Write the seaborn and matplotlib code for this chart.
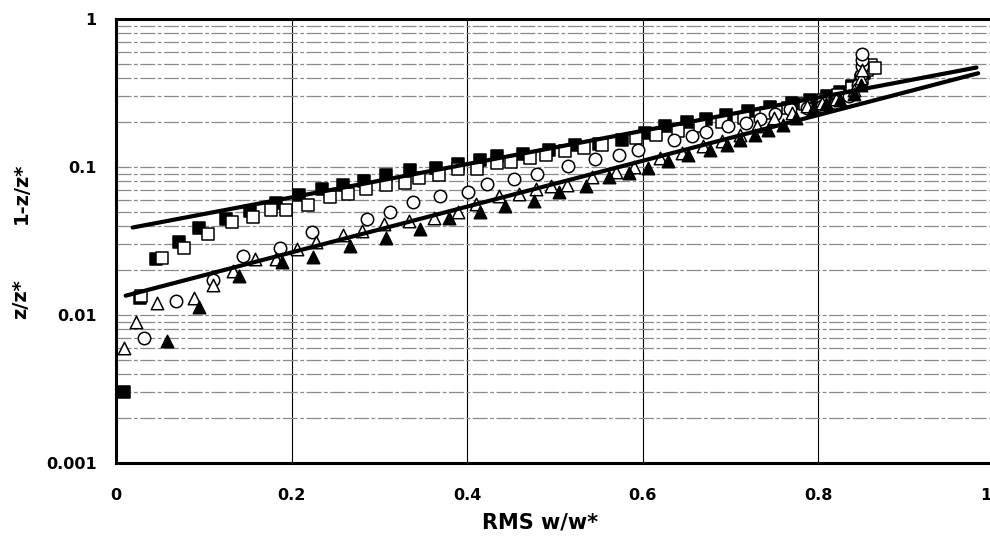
import numpy as np
import pandas as pd
import matplotlib
matplotlib.use("Agg")
import matplotlib.pyplot as plt
import matplotlib.ticker as mticker
import matplotlib.transforms as mtransforms
import seaborn as sns

# filled squares
fsq_x = [0.0095, 0.027, 0.0455, 0.072, 0.095, 0.125, 0.153, 0.182, 0.208, 0.235,
         0.258, 0.283, 0.308, 0.335, 0.364, 0.389, 0.415, 0.434, 0.463, 0.493,
         0.523, 0.550, 0.576, 0.603, 0.625, 0.65, 0.672, 0.695, 0.72, 0.745,
         0.77, 0.79, 0.81, 0.825, 0.838, 0.848, 0.852, 0.855]
fsq_y = [0.003, 0.0131, 0.0238, 0.0312, 0.0387, 0.0444, 0.0508, 0.0573, 0.0649, 0.0712,
         0.0758, 0.081, 0.0877, 0.0949, 0.0985, 0.104, 0.111, 0.118, 0.123, 0.130,
         0.141, 0.144, 0.153, 0.169, 0.19, 0.20, 0.21, 0.225, 0.24, 0.255,
         0.27, 0.285, 0.30, 0.32, 0.35, 0.39, 0.43, 0.47]

# open squares
osq_x = [0.029, 0.052, 0.078, 0.105, 0.132, 0.156, 0.177, 0.194, 0.219, 0.244,
         0.264, 0.285, 0.307, 0.329, 0.345, 0.368, 0.389, 0.411, 0.434, 0.450,
         0.472, 0.490, 0.511, 0.533, 0.554, 0.592, 0.615, 0.64, 0.665, 0.69,
         0.715, 0.74, 0.765, 0.785, 0.805, 0.822, 0.838, 0.85, 0.855, 0.86, 0.865]
osq_y = [0.0135, 0.0243, 0.0283, 0.0353, 0.0424, 0.0456, 0.0515, 0.0515, 0.0554, 0.0624,
         0.0658, 0.0712, 0.075, 0.0782, 0.0846, 0.0877, 0.0965, 0.0975, 0.106, 0.108,
         0.115, 0.120, 0.128, 0.135, 0.141, 0.156, 0.165, 0.175, 0.19, 0.20,
         0.215, 0.23, 0.25, 0.265, 0.285, 0.305, 0.34, 0.40, 0.45, 0.49, 0.47]

# open circles
circ_x = [0.032, 0.068, 0.110, 0.145, 0.187, 0.223, 0.286, 0.312, 0.338, 0.369,
          0.401, 0.423, 0.453, 0.479, 0.515, 0.546, 0.573, 0.594, 0.635, 0.656,
          0.672, 0.697, 0.718, 0.733, 0.75, 0.768, 0.787, 0.804, 0.82, 0.835,
          0.845, 0.848, 0.85, 0.85, 0.85]
circ_y = [0.007, 0.0124, 0.0172, 0.0251, 0.0283, 0.0366, 0.0444, 0.0494, 0.0583, 0.0634,
          0.0676, 0.077, 0.0832, 0.090, 0.1016, 0.1128, 0.121, 0.130, 0.153, 0.161,
          0.172, 0.189, 0.199, 0.211, 0.229, 0.245, 0.251, 0.259, 0.27, 0.30,
          0.36, 0.42, 0.48, 0.53, 0.58]

# open triangles
otri_x = [0.009, 0.023, 0.047, 0.089, 0.110, 0.133, 0.158, 0.182, 0.206, 0.228,
          0.258, 0.280, 0.305, 0.334, 0.362, 0.389, 0.410, 0.436, 0.459, 0.478,
          0.495, 0.514, 0.542, 0.569, 0.590, 0.620, 0.645, 0.669, 0.69, 0.711,
          0.73, 0.749, 0.770, 0.787, 0.804, 0.82, 0.84, 0.848, 0.85]
otri_y = [0.006, 0.009, 0.0121, 0.0131, 0.0159, 0.0197, 0.0238, 0.0238, 0.028, 0.031,
          0.0346, 0.037, 0.041, 0.0433, 0.0449, 0.0493, 0.0562, 0.0634, 0.0658, 0.0712,
          0.0741, 0.0758, 0.0855, 0.0925, 0.1, 0.115, 0.125, 0.138, 0.15, 0.165,
          0.19, 0.215, 0.232, 0.258, 0.272, 0.29, 0.33, 0.40, 0.45]

# filled triangles
ftri_x = [0.058, 0.095, 0.140, 0.189, 0.224, 0.267, 0.308, 0.346, 0.379, 0.415,
          0.443, 0.476, 0.504, 0.535, 0.562, 0.584, 0.606, 0.629, 0.652, 0.677,
          0.696, 0.711, 0.728, 0.743, 0.760, 0.775, 0.794, 0.809, 0.825, 0.84, 0.848]
ftri_y = [0.0067, 0.0113, 0.0184, 0.0229, 0.0247, 0.0292, 0.0333, 0.038, 0.0449, 0.0499,
          0.0548, 0.0593, 0.0683, 0.0741, 0.0855, 0.0914, 0.098, 0.109, 0.121, 0.131,
          0.141, 0.153, 0.165, 0.179, 0.193, 0.215, 0.245, 0.267, 0.285, 0.31, 0.36]

# fitted lines (end points)
fit_up_x = [0.019, 0.980]
fit_up_y = [0.039, 0.47]
fit_lo_x = [0.011, 0.982]
fit_lo_y = [0.0135, 0.43]

x_ticks = [0, 0.2, 0.4, 0.6, 0.8, 1.0]
x_ticklabels = ["0", "0.2", "0.4", "0.6", "0.8", "1"]
y_ticks = [0.001, 0.01, 0.1, 1]
y_ticklabels = ["0.001", "0.01", "0.1", "1"]

sns.set_style("white")
plt.rcParams['font.family'] = ['DejaVu Sans']
plt.rcParams['text.color'] = 'black'
plt.rcParams['xtick.color'] = 'black'
plt.rcParams['ytick.color'] = 'black'

fig = plt.figure(figsize=(9.9, 5.46), dpi=100)
ax = fig.add_axes([116 / 990, 83 / 546, 878 / 990, 444 / 546])

series = [
    (fsq_x, fsq_y, "s", "black"),
    (osq_x, osq_y, "s", "white"),
    (circ_x, circ_y, "o", "white"),
    (otri_x, otri_y, "^", "white"),
    (ftri_x, ftri_y, "^", "black"),
]
for xs, ys, mk, fc in series:
    df = pd.DataFrame({"x": xs, "y": ys})
    sns.scatterplot(data=df, x="x", y="y", marker=mk, s=80, facecolor=fc,
                    edgecolor="black", linewidth=1.1, ax=ax, zorder=3)

for xs, ys in [(fit_up_x, fit_up_y), (fit_lo_x, fit_lo_y)]:
    sns.lineplot(x=xs, y=ys, color="black", linewidth=3, ax=ax, zorder=4)

ax.set_yscale("log")
ax.set_xlim(0, 1)
ax.set_ylim(0.001, 1)
ax.set_xticks(x_ticks)
ax.set_xticklabels(x_ticklabels)
ax.set_yticks(y_ticks)
ax.set_yticklabels(y_ticklabels)
ax.yaxis.set_minor_locator(mticker.LogLocator(base=10, subs=np.arange(2, 10)))
ax.yaxis.set_minor_formatter(mticker.NullFormatter())
ax.tick_params(axis="both", which="both", length=0, labelcolor="black")
ax.tick_params(axis="x", pad=18, labelsize=11.5)
ax.tick_params(axis="y", pad=14, labelsize=11.5)
for lab in ax.get_xticklabels() + ax.get_yticklabels():
    lab.set_fontweight("bold")
# last x label sits at the clipped right edge; nudge it inside
last = ax.get_xticklabels()[-1]
last.set_transform(last.get_transform() +
                   mtransforms.ScaledTranslation(-8 / 100, 0, fig.dpi_scale_trans))

ax.grid(True, axis="y", which="both", color="#8a8a8a", linewidth=0.9,
        linestyle=(0, (12, 2, 3, 2)))
ax.grid(True, axis="x", which="major", color="black", linewidth=0.8)

for side in ["left", "bottom", "top"]:
    ax.spines[side].set_linewidth(2.2)
    ax.spines[side].set_color("black")
ax.spines["right"].set_visible(False)

ax.set_xlabel("")
ax.set_ylabel("")
fig.text(540 / 990, 1 - 523 / 546, "RMS w/w*", ha="center", va="center",
         fontsize=15, fontweight="bold", color="black")
fig.text(21 / 990, 1 - 193 / 546, "1-z/z*", ha="center", va="center",
         rotation=90, fontsize=14, fontweight="bold", color="black")
fig.text(21 / 990, 1 - 299 / 546, "z/z*", ha="center", va="center",
         rotation=90, fontsize=14, fontweight="bold", color="black")

fig.savefig("out.png", dpi=100)
